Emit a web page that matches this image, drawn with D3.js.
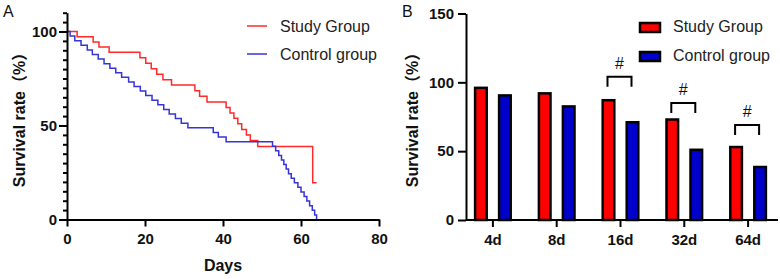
<!DOCTYPE html>
<html>
<head>
<meta charset="utf-8">
<script src="https://cdn.jsdelivr.net/npm/d3@7"></script>
<style>
  body { margin: 0; background: #fff; }
  svg text { font-family: Arial, "Liberation Sans", "Noto Sans CJK SC", sans-serif; fill: #111; }
</style>
</head>
<body>
<div id="chart"></div>
<script>
// ---- panel A: survival curves (day, % surviving after that step) ----
const studyDays = [0, 2.6, 6.7, 8.2, 10.8, 18.7, 20.2, 21.6, 23.0, 24.6, 26.8, 32.8, 34.0, 35.9,
  40.8, 41.8, 42.8, 43.8, 44.8, 46.0, 47.0, 48.9, 63.0, 64.0];
const studySurv = [100, 97.2, 94.4, 91.7, 88.9, 86.0, 83.1, 80.2, 77.3, 74.4, 71.5, 68.5, 65.5, 62.5,
  59.6, 56.7, 53.8, 50.9, 47.9, 45.0, 42.0, 38.8, 19.5, 19.5];

const controlDays = [0, 0.8, 2.0, 3.6, 5.2, 6.5, 8.0, 9.5, 11.0, 12.5, 14.0, 15.8, 17.2, 18.8, 20.2,
  21.8, 23.3, 24.8, 26.2, 27.8, 29.3, 31.0, 37.5, 38.8, 40.8, 52.7, 53.5, 54.3, 55.0, 55.6, 56.2,
  56.8, 57.5, 58.3, 59.2, 60.0, 60.8, 61.5, 62.2, 62.9, 63.5, 64.0];
const controlSurv = [100, 97.6, 95.1, 92.7, 90.2, 87.8, 85.4, 82.9, 80.5, 78.0, 75.6, 73.2, 70.7, 68.3, 65.9,
  63.4, 61.0, 58.5, 56.1, 53.7, 51.2, 48.8, 46.3, 43.9, 41.4, 39.0, 36.6, 34.1, 31.7, 29.3, 26.8,
  24.4, 22.0, 19.5, 17.1, 14.6, 12.2, 9.8, 7.3, 4.9, 2.4, 0];

const dayTicks = [0, 20, 40, 60, 80];
const survTicks = [0, 5, 10, 15, 20, 25, 30, 35, 40, 45, 50, 55, 60, 65, 70, 75, 80, 85, 90, 95, 100, 105, 110];

// ---- panel B: survival rate by time point ----
const timepoints = ["4d", "8d", "16d", "32d", "64d"];
const studyRate = [96, 92, 87, 73, 53];
const controlRate = [90.5, 82.5, 71, 51, 38.5];
const sigMarks = ["", "", "#", "#", "#"];
const sigLevels = [null, null, 104, 85, 69];
const rateTicks = [0, 50, 100, 150];

const seriesNames = ["Study Group", "Control group"];
const lineColors = ["#ff2a2a", "#3535d6"];
const barColors = ["#ff0000", "#0000cc"];

const svg = d3.select("#chart").append("svg")
  .attr("width", 780)
  .attr("height", 279);

const yTitle = "Survival rate\uFF08%\uFF09";

// ================= A =================
const xA = d3.scaleLinear().domain([0, 80]).range([67, 379]);
const yA = d3.scaleLinear().domain([0, 110]).range([219.5, 12.7]);

const gA = svg.append("g");

gA.append("text").attr("x", 3).attr("y", 17).style("font-size", "16px").text("A");

const line = d3.line()
  .x(d => xA(d[0]))
  .y(d => yA(d[1]))
  .curve(d3.curveStepAfter);

const curves = [
  d3.zip(studyDays, studySurv),
  d3.zip(controlDays, controlSurv)
];

gA.selectAll(".km")
  .data(curves)
  .enter().append("path")
  .attr("class", "km")
  .attr("d", line)
  .attr("fill", "none")
  .attr("stroke", (d, i) => lineColors[i])
  .attr("stroke-width", 1.5);

const xAxisA = gA.append("g")
  .attr("transform", `translate(0,${yA(0)})`)
  .call(d3.axisBottom(xA).tickValues(dayTicks).tickSize(7).tickSizeOuter(0).tickPadding(7));

const yAxisA = gA.append("g")
  .attr("transform", `translate(${xA(0)},0)`)
  .call(d3.axisLeft(yA).tickValues(survTicks).tickSize(4).tickSizeOuter(0)
    .tickFormat(d => d % 50 === 0 ? d : ""));

yAxisA.selectAll(".tick line").filter(d => d % 50 === 0).attr("x2", -8);
yAxisA.selectAll(".tick text").attr("x", -10);

[xAxisA, yAxisA].forEach(ax => {
  ax.select(".domain").attr("stroke-width", 2);
  ax.selectAll(".tick line").attr("stroke-width", 2);
  ax.selectAll(".tick text")
    .style("font-family", "Arial, 'Liberation Sans', sans-serif")
    .style("font-size", "15px").style("font-weight", "bold");
});

gA.append("text")
  .attr("x", 223).attr("y", 271)
  .attr("text-anchor", "middle")
  .style("font-size", "16px").style("font-weight", "bold")
  .text("Days");

gA.append("text")
  .attr("transform", "translate(25,116) rotate(-90)")
  .attr("text-anchor", "middle")
  .style("font-size", "16px").style("font-weight", "bold")
  .text(yTitle);

const legA = gA.append("g").attr("transform", "translate(247,26)");
seriesNames.forEach((name, i) => {
  legA.append("line")
    .attr("x1", 0).attr("x2", 20)
    .attr("y1", i * 28).attr("y2", i * 28)
    .attr("stroke", lineColors[i]).attr("stroke-width", 1.5);
  legA.append("text")
    .attr("x", 33).attr("y", i * 28 + 6)
    .style("font-size", "16px")
    .style("fill", "#222")
    .text(name);
});

// ================= B =================
const xB = d3.scaleBand().domain(timepoints).range([461, 780]);
const xInner = d3.scaleBand().domain(seriesNames).range([-19, 19]).paddingInner(0.4167);
const yB = d3.scaleLinear().domain([0, 150]).range([220, 13.5]);

const gB = svg.append("g");

gB.append("text").attr("x", 402).attr("y", 17).style("font-size", "16px").text("B");

const rows = timepoints.map((t, i) => ({ t, vals: [studyRate[i], controlRate[i]], mark: sigMarks[i], level: sigLevels[i] }));

const groups = gB.selectAll(".grp")
  .data(rows)
  .enter().append("g")
  .attr("class", "grp")
  .attr("transform", d => `translate(${xB(d.t) + xB.bandwidth() / 2},0)`);

groups.selectAll("rect")
  .data(d => d.vals.map((v, i) => ({ v, s: seriesNames[i], i })))
  .enter().append("rect")
  .attr("x", d => xInner(d.s) + 1.2)
  .attr("y", d => yB(d.v))
  .attr("width", xInner.bandwidth() - 2.4)
  .attr("height", d => yB(0) - yB(d.v))
  .attr("fill", d => barColors[d.i])
  .attr("stroke", "#000")
  .attr("stroke-width", 2.5);

const sig = groups.filter(d => d.level !== null);
sig.append("path")
  .attr("d", d => {
    const x0 = xInner(seriesNames[0]) + xInner.bandwidth() / 2 - 1;
    const x1 = xInner(seriesNames[1]) + xInner.bandwidth() / 2 - 1;
    const y = yB(d.level);
    return `M${x0},${y + 10}V${y}H${x1}V${y + 10}`;
  })
  .attr("fill", "none")
  .attr("stroke", "#000")
  .attr("stroke-width", 2);
sig.append("text")
  .attr("x", -1)
  .attr("y", d => yB(d.level) - 8)
  .attr("text-anchor", "middle")
  .style("font-size", "16px")
  .text(d => d.mark);

const xAxisB = gB.append("g")
  .attr("transform", `translate(0,${yB(0)})`)
  .call(d3.axisBottom(xB).tickSize(7).tickSizeOuter(0).tickPadding(7));
xAxisB.select(".domain").attr("d", `M466,0H778`);

const yAxisB = gB.append("g")
  .attr("transform", "translate(466,0)")
  .call(d3.axisLeft(yB).tickValues(rateTicks).tickSize(8).tickSizeOuter(0));
yAxisB.selectAll(".tick text").attr("x", -12);

[xAxisB, yAxisB].forEach(ax => {
  ax.select(".domain").attr("stroke-width", 2);
  ax.selectAll(".tick line").attr("stroke-width", 2);
  ax.selectAll(".tick text")
    .style("font-family", "Arial, 'Liberation Sans', sans-serif")
    .style("font-size", "15px").style("font-weight", "bold");
});

gB.append("text")
  .attr("transform", "translate(418,116) rotate(-90)")
  .attr("text-anchor", "middle")
  .style("font-size", "16px").style("font-weight", "bold")
  .text(yTitle);

const legB = gB.append("g").attr("transform", "translate(640,23)");
seriesNames.forEach((name, i) => {
  legB.append("rect")
    .attr("x", 0).attr("y", i * 29)
    .attr("width", 20).attr("height", 9)
    .attr("fill", barColors[i])
    .attr("stroke", "#000").attr("stroke-width", 2.5);
  legB.append("text")
    .attr("x", 33).attr("y", i * 29 + 9)
    .style("font-size", "16px")
    .style("fill", "#222")
    .text(name);
});
</script>
</body>
</html>
